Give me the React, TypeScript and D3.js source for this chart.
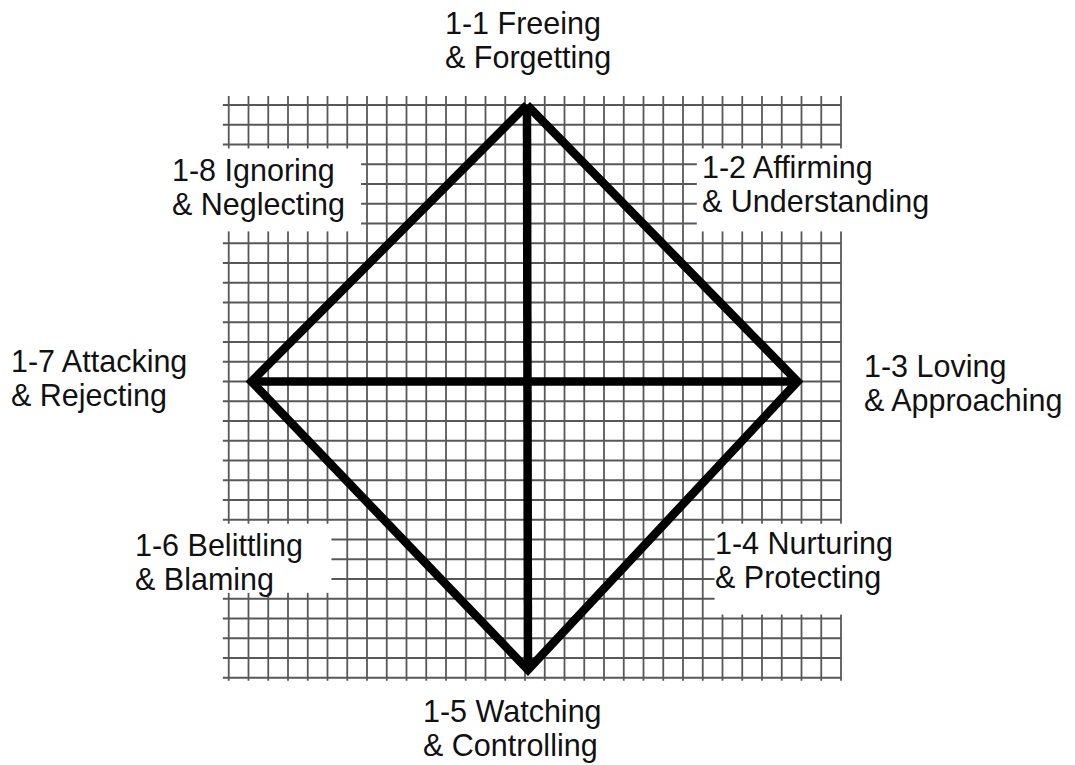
import React from 'react';
import * as d3 from 'd3';

const width = 1075;
const height = 765;
const unit = 19.75;
const origin = {x: 525, y: 381.5};

// octant labels, two lines each
const labelLine1 = ['1-1 Freeing', '1-2 Affirming', '1-3 Loving', '1-4 Nurturing',
  '1-5 Watching', '1-6 Belittling', '1-7 Attacking', '1-8 Ignoring'];
const labelLine2 = ['& Forgetting', '& Understanding', '& Approaching', '& Protecting',
  '& Controlling', '& Blaming', '& Rejecting', '& Neglecting'];

// diamond corners in grid units (top, right, bottom, left)
const cornerX = [0.1, 13.8, 0.15, -13.85];
const cornerY = [14, 0, -14.6, 0];

// grid extent in grid units
const gridCols = d3.range(-15, 17);
const gridRows = d3.range(-15, 15);

// label anchor (left x px, first baseline px)
const labelPos: [number, number][] = [
  [445, 34], [702, 178], [864, 377], [715, 554],
  [423, 722], [135, 556], [11, 372], [172, 181],
];

// white patches behind side labels, grid units [x0, x1, y0, y1]
const masks: [number, number, number, number][] = [
  [-16, -8.3, 7.6, 11.8],
  [8.7, 17, 7.6, 11.8],
  [-16, -9.8, -10.7, -7.2],
  [9.6, 17, -11.8, -7.2],
];

const App: React.FC = () => {
  const x = d3.scaleLinear().domain([0, 1]).range([origin.x, origin.x + unit]);
  const y = d3.scaleLinear().domain([0, 1]).range([origin.y, origin.y - unit]);

  const corners = cornerX.map((cx, i) => [x(cx), y(cornerY[i])] as [number, number]);
  const diamond = d3.line()([...corners, corners[0]]) || '';
  const vAxis = d3.line()([corners[0], corners[2]]) || '';
  const hAxis = d3.line()([corners[3], corners[1]]) || '';

  const gridColor = '#585858';

  return (
    <svg width={width} height={height} style={{position: 'absolute', left: 0, top: 0}}>
      <rect width={width} height={height} fill='#fff' />
      <g stroke={gridColor} strokeWidth={1.8}>
        {gridCols.map(c => (
          <line key={'c' + c} x1={x(c)} x2={x(c)} y1={y(14.45)} y2={y(-15.15)} />
        ))}
        {gridRows.map(r => (
          <line key={'r' + r} x1={x(-15.3)} x2={x(16)} y1={y(r)} y2={y(r)} />
        ))}
      </g>
      {masks.map((m, i) => (
        <rect key={i} x={x(m[0])} y={y(m[3])} width={x(m[1]) - x(m[0])}
          height={y(m[2]) - y(m[3])} fill='#fff' />
      ))}
      <g fill='none' stroke='#000' strokeWidth={8.5} strokeLinejoin='miter'>
        <path d={diamond} />
        <path d={vAxis} />
        <path d={hAxis} />
      </g>
      <g fontFamily='"Liberation Sans", Arial, sans-serif' fontSize={30.5} fill='#111'>
        {labelLine1.map((l, i) => (
          <text key={i} x={labelPos[i][0]} y={labelPos[i][1]}>
            <tspan x={labelPos[i][0]}>{l}</tspan>
            <tspan x={labelPos[i][0]} dy={34}>{labelLine2[i]}</tspan>
          </text>
        ))}
      </g>
    </svg>
  );
};

export default App;
